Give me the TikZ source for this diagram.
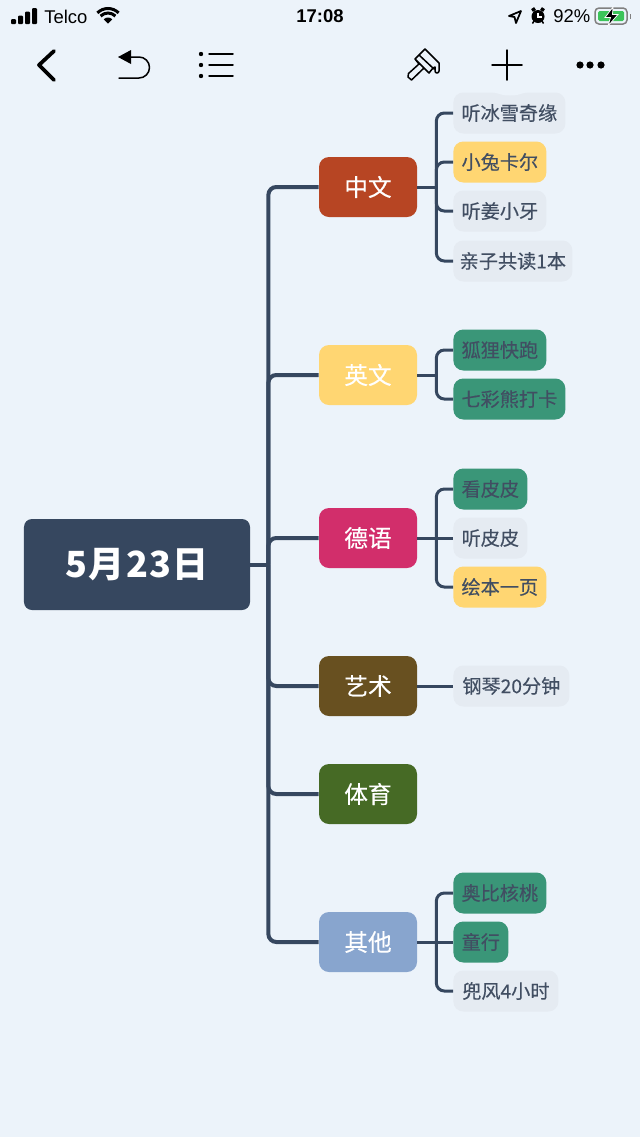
\documentclass[tikz,border=0pt]{standalone}
\usepackage{fontspec}
\usepackage{xcolor}
\setmainfont{Liberation Sans}
\newfontfamily\cjk[FakeBold=0.3]{Noto Sans CJK SC}
\newfontfamily\cjkroot[LetterSpace=3.5]{Noto Sans CJK SC}
\usetikzlibrary{math}
\usetikzlibrary{calc}
\usetikzlibrary{positioning}

\definecolor{pagebg}{HTML}{ECF3FA}
\definecolor{inkblue}{HTML}{36475F}
\definecolor{leafgray}{HTML}{E5EBF2}
\definecolor{leafyellow}{HTML}{FFD672}
\definecolor{leafgreen}{HTML}{3A9678}
\definecolor{leaftext}{HTML}{414E62}
\definecolor{subred}{HTML}{B74523}
\definecolor{subpink}{HTML}{D22E6B}
\definecolor{subbrown}{HTML}{685020}
\definecolor{subgreen}{HTML}{466A25}
\definecolor{subblue}{HTML}{88A5CE}
\definecolor{batgreen}{HTML}{3CC45A}

\tikzset{
  rootnode/.style={inner sep=0, text=white, font=\cjkroot\fontsize{20.5}{24}\selectfont\bfseries,
    minimum width=45.2mm, minimum height=18.2mm, rounded corners=1.6mm, fill=inkblue},
  subnode/.style={inner sep=0, text=white, font=\cjk\fontsize{13.5}{16}\selectfont,
    minimum width=19.6mm, minimum height=12mm, rounded corners=2mm},
  leafnode/.style={inner sep=0, anchor=west, text=leaftext, font=\cjk\fontsize{10.9}{13}\selectfont,
    minimum height=8.2mm, rounded corners=2mm},
  trunk/.style={draw=inkblue, line width=0.8mm, rounded corners=1.6mm},
  twig/.style={draw=inkblue, line width=0.6mm, rounded corners=1.6mm},
  tool/.style={draw=black, line width=0.3mm, line cap=round, line join=round},
}

\begin{document}
\begin{tikzpicture}[x=0.2mm,y=-0.2mm]

  % page
  \fill[pagebg] (0,0) rectangle (640,1137);
  \useasboundingbox (0,0) rectangle (640,1137);

  % status bar, left
  \foreach \barx/\bartop in {11/19, 18/15.5, 25/11.5, 32/8}
    \fill[black, rounded corners=0.2mm] (\barx,\bartop) rectangle ++(5,24-\bartop);
  \node[anchor=west, inner sep=0, font=\fontsize{10.5}{12}\selectfont] (telco) at (44,16.5) {Telco};
  \coordinate (wifi) at (108,23.5);
  \fill (wifi) -- ++(-135:6) arc (-135:-45:6) -- cycle;
  \draw[line width=0.6mm] ($(wifi)+(-135:10.5)$) arc (-135:-45:10.5);
  \draw[line width=0.6mm] ($(wifi)+(-135:15)$) arc (-135:-45:15);

  % status bar, middle and right
  \node[inner sep=0, font=\fontsize{10.5}{12}\selectfont\bfseries] (clock) at (320,16.5) {17:08};
  \draw[line width=0.35mm, line join=round] (509,16) -- (521,11) -- (516,23) -- (514.5,17) -- cycle;
  \fill (538,16.5) circle (6.5);
  \draw[line width=0.65mm] (532,10.5) -- (535,8.5) (541,8.5) -- (544,10.5);
  \draw[line width=0.3mm] (534,21) -- (532.5,23.5) (542,21) -- (543.5,23.5);
  \draw[white, line width=0.25mm] (538,12.5) -- (538,17) -- (542,17);
  \node[inner sep=0, anchor=west, font=\fontsize{10.5}{12}\selectfont] (percent) at (553,16.5) {92\%};
  \draw[gray, line width=0.3mm, rounded corners=0.8mm] (595,8) rectangle (627,24);
  \fill[batgreen, rounded corners=0.3mm] (598,11) rectangle (624,21);
  \fill[gray] (629.5,13.5) rectangle (631,19);
  \filldraw[draw=white, line width=0.15mm, fill=black] (613,7) -- (605,17.5) -- (610.5,17.5) -- (608,26) -- (618,14.5) -- (612.5,14.5) -- cycle;

  % toolbar, left
  \draw[tool, line width=0.75mm] (54,51) -- (39,65) -- (54,80);
  \fill (118,57) -- (131,50) -- (131,64) -- cycle;
  \draw[tool] (131,57) -- (139,57) arc (-90:90:10.5) -- (119,78);
  \foreach \listy in {54,65,76} {
    \fill (201,\listy) circle (2.2);
    \draw[tool] (209,\listy) -- (233,\listy);
  }

  % toolbar, right
  \draw[tool] (425,49) -- (415,59) -- (429,73) -- (433,68)
    (425,49) -- (439,63) -- (439,71) arc (0:180:2) -- (435,67) -- (433,68)
    (419,55) -- (434,69)
    (415,59) -- (419,64) -- (408.5,73.5) -- (408,77) -- (411.5,80) -- (424,68);
  \draw[tool] (492,65) -- (522,65) (507,50) -- (507,80);
  \foreach \dotx in {580,590,601}
    \fill (\dotx,65) circle (3.6);

  % root and first level
  \node[rootnode] (root) at (137,564.5) {5月23日};
  \draw[draw=inkblue, line width=0.8mm] (root.east) -- ++(18,0) coordinate (rootjoint);
  \foreach \name/\posy/\col/\txt in {zhong/187/subred/中文, ying/375/leafyellow/英文, de/538/subpink/德语,
      yi/686/subbrown/艺术, ti/794/subgreen/体育, qi/942/subblue/其他} {
    \node[subnode, fill=\col] (\name) at (368,\posy) {\txt};
    \draw[trunk] (rootjoint) |- (\name.west);
  }

  % second level
  \foreach \name/\posy/\wid/\col/\txt in {
      a/113/112/leafgray/听冰雪奇缘, b/162/93/leafyellow/小兔卡尔,
      c/211/93/leafgray/听姜小牙, d/261/119/leafgray/亲子共读1本,
      e/350/93/leafgreen/狐狸快跑, f/399/112/leafgreen/七彩熊打卡,
      g/489/74/leafgreen/看皮皮, h/538/74/leafgray/听皮皮, i/587/93/leafyellow/绘本一页,
      j/686/116/leafgray/钢琴20分钟,
      k/893/93/leafgreen/奥比核桃, l/942/55/leafgreen/童行, m/991/105/leafgray/兜风4小时}
    \node[leafnode, fill=\col, minimum width=\wid*0.2mm] (\name) at (453,\posy) {\txt};

  % dent in the top edge of the first leaf
  \fill[pagebg] (484,91) .. controls (497,91.5) and (498,95.5) .. (510,95.5)
    .. controls (522,95.5) and (523,91.5) .. (536,91) -- cycle;

  % connectors to the second level
  \foreach \parent/\name in {zhong/a, zhong/b, zhong/c, zhong/d, ying/e, ying/f, de/g, de/i, qi/k, qi/m} {
    \draw[draw=inkblue, line width=0.6mm] (\parent.east) -- ++(19,0) coordinate (twigjoint);
    \draw[twig] (twigjoint) |- (\name.west);
  }
  \foreach \parent/\name in {de/h, yi/j, qi/l}
    \draw[draw=inkblue, line width=0.6mm] (\parent.east) -- (\name.west);

\end{tikzpicture}
\end{document}
